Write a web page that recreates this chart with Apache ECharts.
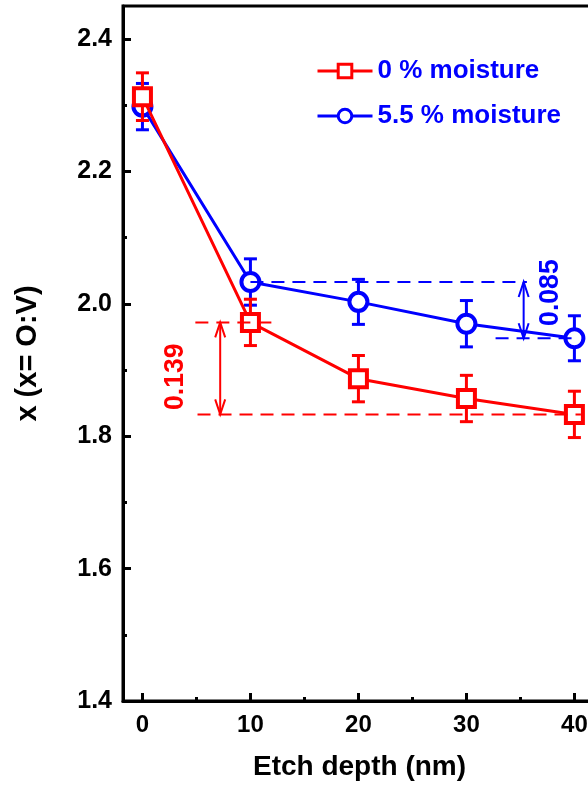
<!DOCTYPE html>
<html>
<head>
<meta charset="utf-8">
<script src="https://cdn.jsdelivr.net/npm/echarts@6/dist/echarts.min.js"></script>
<style>
  html, body { margin: 0; padding: 0; background: #fff; overflow: hidden; }
  /* the plot frame runs past the right edge of the page */
  #chart { width: 620px; height: 786px; }
</style>
</head>
<body>
<div id="chart"></div>
<script>
// Etch depth (nm) and the O:V ratio measured at each depth
const depth = [0, 10, 20, 30, 40];
const dryRatio = [2.313, 1.972, 1.887, 1.857, 1.833];
const dryErr = [0.036, 0.035, 0.035, 0.035, 0.035];
const wetRatio = [2.298, 2.033, 2.003, 1.970, 1.948];
const wetErr = [0.035, 0.035, 0.034, 0.035, 0.034];
const seriesNames = ['0 % moisture', '5.5 % moisture'];

// axis ticks
const xTicks = [0, 10, 20, 30, 40];
const xMinorTicks = [5, 15, 25, 35];
const yTicks = [1.4, 1.6, 1.8, 2.0, 2.2, 2.4];
const yMinorTicks = [1.5, 1.7, 1.9, 2.1, 2.3];

// bulk-to-surface drop of x for each sample: [start level, drop]
const dryDrop = [1.972, 0.139];
const wetDrop = [2.033, 0.085];

const RED = '#ff0000';
const BLUE = '#0000ff';
const FONT = '"Liberation Sans", Arial, sans-serif';

const chart = echarts.init(document.getElementById('chart'), null, { renderer: 'canvas' });

function errorBars(values, errs, color, z) {
  return {
    type: 'custom',
    z: z,
    silent: true,
    data: depth.map((d, i) => [d, values[i] - errs[i], values[i] + errs[i]]),
    encode: { x: 0, y: [1, 2] },
    renderItem(params, api) {
      const x = api.value(0);
      const lo = api.coord([x, api.value(1)]);
      const hi = api.coord([x, api.value(2)]);
      const w = 6.5;
      const st = { stroke: color, lineWidth: 3 };
      return {
        type: 'group',
        children: [
          { type: 'line', shape: { x1: lo[0], y1: lo[1], x2: hi[0], y2: hi[1] }, style: st },
          { type: 'line', shape: { x1: lo[0] - w, y1: lo[1], x2: lo[0] + w, y2: lo[1] }, style: st },
          { type: 'line', shape: { x1: hi[0] - w, y1: hi[1], x2: hi[0] + w, y2: hi[1] }, style: st }
        ]
      };
    }
  };
}

// dashed guide levels, double arrow and rotated value label for one drop
function dropMarker(drop, color, geo) {
  return {
    type: 'custom',
    z: 6,
    silent: true,
    data: [[0]],
    renderItem(params, api) {
      const top = drop[0];
      const bot = drop[0] - drop[1];
      const dash = { stroke: color, lineWidth: 2, lineDash: [13, 8] };
      const solid = { stroke: color, lineWidth: 2, fill: null };
      const t0 = api.coord([geo.topFrom, top]);
      const t1 = api.coord([geo.topTo, top]);
      const b0 = api.coord([geo.botFrom, bot]);
      const b1 = api.coord([geo.botTo, bot]);
      const aT = api.coord([geo.arrowX, top]);
      const aB = api.coord([geo.arrowX, bot]);
      const lab = api.coord(geo.label);
      const hl = 15, hw = 5;
      return {
        type: 'group',
        children: [
          { type: 'line', shape: { x1: t0[0], y1: t0[1], x2: t1[0], y2: t1[1] }, style: dash },
          { type: 'line', shape: { x1: b0[0], y1: b0[1], x2: b1[0], y2: b1[1] }, style: dash },
          { type: 'line', shape: { x1: aT[0], y1: aT[1], x2: aB[0], y2: aB[1] }, style: solid },
          { type: 'polyline', shape: { points: [[aT[0] - hw, aT[1] + hl], [aT[0], aT[1]], [aT[0] + hw, aT[1] + hl]] }, style: solid },
          { type: 'polyline', shape: { points: [[aB[0] - hw, aB[1] - hl], [aB[0], aB[1]], [aB[0] + hw, aB[1] - hl]] }, style: solid },
          {
            type: 'text',
            x: lab[0], y: lab[1],
            rotation: Math.PI / 2,
            scaleX: 0.95,
            style: {
              text: drop[1].toFixed(3),
              fill: color,
              font: 'bold 28px ' + FONT,
              align: 'center',
              verticalAlign: 'middle'
            }
          }
        ]
      };
    }
  };
}

const axisLabelStyle = { color: '#000', fontFamily: FONT, fontWeight: 'bold', fontSize: 24 };

const option = {
  animation: false,
  backgroundColor: '#fff',
  grid: {
    left: 123, top: 6, width: 473, height: 696,
    show: true, borderColor: '#000', borderWidth: 3, backgroundColor: 'transparent'
  },
  legend: {
    data: seriesNames,
    orient: 'vertical',
    left: 316, top: 58, padding: 0,
    itemWidth: 55, itemHeight: 17, itemGap: 19,
    lineStyle: { width: 3 },
    itemStyle: { borderWidth: 3 },
    textStyle: { color: BLUE, fontFamily: FONT, fontWeight: 'bold', fontSize: 26, lineHeight: 26 },
    selectedMode: false
  },
  xAxis: [
    {
      type: 'value', min: -1.8, max: 42,
      name: 'Etch depth (nm)', nameLocation: 'middle', nameGap: 52,
      nameTextStyle: { color: '#000', fontFamily: FONT, fontWeight: 'bold', fontSize: 28 },
      axisLine: { show: true, onZero: false, lineStyle: { color: '#000', width: 3 } },
      axisTick: { show: true, inside: true, length: 8, lineStyle: { color: '#000', width: 3 }, customValues: xTicks },
      axisLabel: Object.assign({ margin: 12, customValues: xTicks }, axisLabelStyle),
      splitLine: { show: false }
    },
    {
      type: 'value', min: -1.8, max: 42, position: 'bottom',
      axisLine: { show: false, onZero: false },
      axisTick: { show: true, inside: true, length: 4, lineStyle: { color: '#000', width: 3 }, customValues: xMinorTicks },
      axisLabel: { show: false },
      splitLine: { show: false }
    }
  ],
  yAxis: [
    {
      type: 'value', min: 1.4, max: 2.45,
      name: 'x (x= O:V)', nameLocation: 'middle', nameGap: 81, nameRotate: 90,
      nameTextStyle: { color: '#000', fontFamily: FONT, fontWeight: 'bold', fontSize: 29 },
      axisLine: { show: true, onZero: false, lineStyle: { color: '#000', width: 3 } },
      axisTick: { show: true, inside: true, length: 8, lineStyle: { color: '#000', width: 3 }, customValues: yTicks },
      axisLabel: Object.assign({ margin: 11, customValues: yTicks, formatter: v => v.toFixed(1) }, axisLabelStyle, { fontSize: 25 }),
      splitLine: { show: false }
    },
    {
      type: 'value', min: 1.4, max: 2.45, position: 'left',
      axisLine: { show: false, onZero: false },
      axisTick: { show: true, inside: true, length: 4, lineStyle: { color: '#000', width: 3 }, customValues: yMinorTicks },
      axisLabel: { show: false },
      splitLine: { show: false }
    }
  ],
  series: [
    errorBars(wetRatio, wetErr, BLUE, 2),
    {
      name: seriesNames[1], type: 'line', z: 3,
      data: depth.map((d, i) => [d, wetRatio[i]]),
      symbol: 'circle', symbolSize: 18,
      lineStyle: { color: BLUE, width: 3 },
      itemStyle: { color: '#fff', borderColor: BLUE, borderWidth: 4 }
    },
    errorBars(dryRatio, dryErr, RED, 4),
    {
      name: seriesNames[0], type: 'line', z: 5,
      data: depth.map((d, i) => [d, dryRatio[i]]),
      symbol: 'rect', symbolSize: 17,
      lineStyle: { color: RED, width: 3 },
      itemStyle: { color: '#fff', borderColor: RED, borderWidth: 4 }
    },
    dropMarker(dryDrop, RED, { topFrom: 4.9, topTo: 12.0, botFrom: 5.1, botTo: 40.6, arrowX: 7.2, label: [3.05, 1.890] }),
    dropMarker(wetDrop, BLUE, { topFrom: 10, topTo: 35.6, botFrom: 32.7, botTo: 40, arrowX: 35.3, label: [37.8, 2.017] })
  ]
};

chart.setOption(option);
</script>
</body>
</html>
